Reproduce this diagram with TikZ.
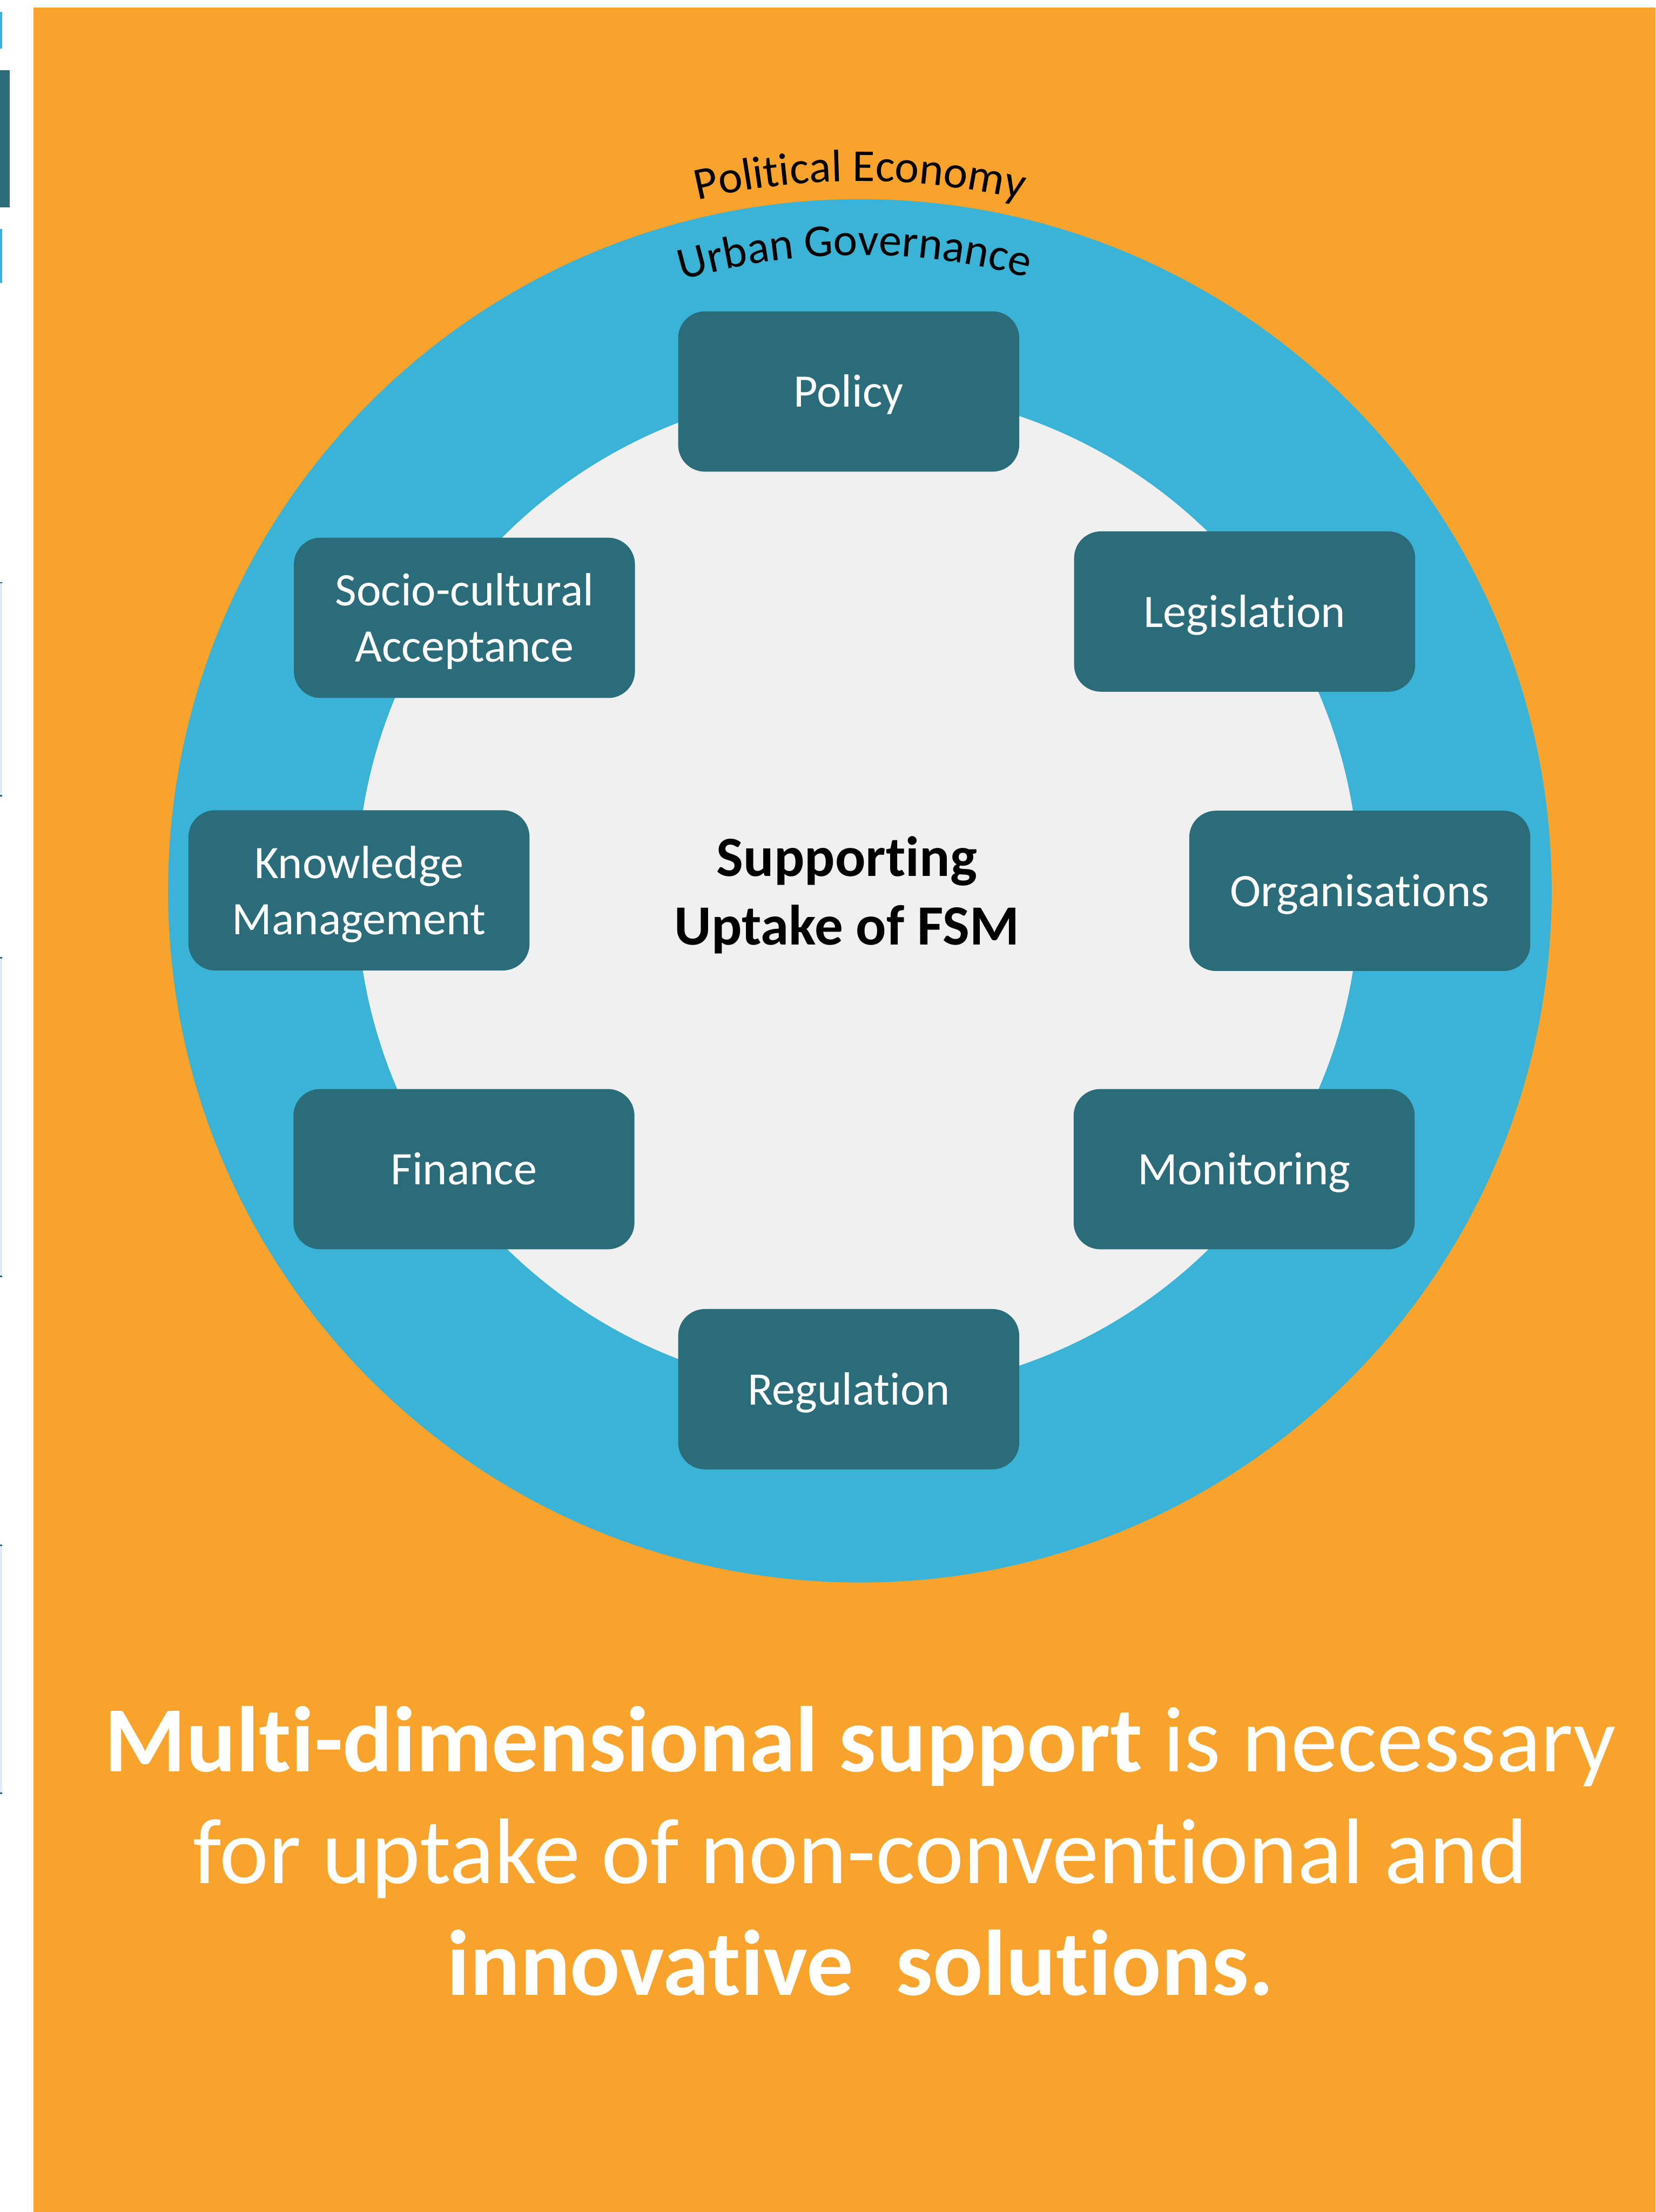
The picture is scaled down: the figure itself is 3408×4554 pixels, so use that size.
\documentclass[tikz,border=0pt]{standalone}
\usepackage{fontspec}
\setmainfont{Carlito}[Ligatures=NoCommon]
\usetikzlibrary{decorations.text}

\definecolor{panel}{RGB}{248,163,43}
\definecolor{ring}{RGB}{58,179,215}
\definecolor{core}{RGB}{240,240,240}
\definecolor{tile}{RGB}{43,108,122}
\definecolor{tab}{RGB}{222,234,246}

\newcommand\tilefont{\fontsize{96}{116}\selectfont}
\newcommand\arcfont{\fontsize{94}{110}\selectfont}

\begin{document}
\begin{tikzpicture}[x=1pt,y=1pt,
  tilebox/.style={rectangle, rounded corners=55pt, fill=tile, text=white,
    minimum width=702pt, minimum height=330pt, inner sep=0pt,
    align=center, font=\tilefont},
  oneline/.style={text height=74pt, text depth=10pt},
  twoline/.style={text height=190pt, text depth=8pt},
  arclabel/.style={decorate, decoration={text along path, text align=center}}]

\useasboundingbox (0,0) rectangle (3408,-4554);
\fill[white] (0,0) rectangle (3408,-4554);

% slivers along the left edge
\fill[ring] (0,-25) rectangle (4,-100);
\fill[tile] (0,-145) rectangle (20,-427);
\fill[ring] (0,-471) rectangle (4,-583);
\foreach \a/\b in {1198/1640, 1970/2629, 3180/3693}{
  \fill[tab] (0,-\a) rectangle (4,-\b);
  \fill[tile] (0,-\a) rectangle (4,{-\a-3});
  \fill[tile] (0,-\b) rectangle (4,{-\b+3});
}

% orange panel
\fill[panel] (69,-16) rectangle (3408,-4554);

% rings
\coordinate (C) at (1770,-1834);
\fill[ring] (C) circle[radius=1424];
\fill[core] (1766,-1834) circle[radius=1032];

% curved labels
\path[arclabel, decoration={text={|\arcfont|Political Economy}}]
  ([shift={(112:1461)}]C) arc[start angle=112, end angle=68, radius=1461];
\path[arclabel, decoration={text={|\arcfont|Urban Governance}}]
  ([shift={(114:1309)}]C) arc[start angle=114, end angle=67, radius=1309];

% dimension tiles
\node[tilebox, oneline] (policy) at (1747,-806)  {Policy};
\node[tilebox, oneline] (legis)  at (2562,-1259) {Legislation};
\node[tilebox, oneline] (orgs)   at (2799,-1834) {Organisations};
\node[tilebox, oneline] (monit)  at (2561,-2407) {Monitoring};
\node[tilebox, oneline] (regul)  at (1747,-2860) {Regulation};
\node[tilebox, oneline] (fin)    at (955,-2407)  {Finance};
\node[tilebox, twoline] (know)   at (739,-1833)  {Knowledge\\Management};
\node[tilebox, twoline] (socio)  at (956,-1272)  {Socio-cultural\\Acceptance};

% hub text
\node[font=\fontsize{117}{141}\selectfont\bfseries, align=center, inner sep=0pt]
  (hub) at (1743,-1843) {Supporting\\Uptake of FSM};

% message
\node[font=\fontsize{192}{230}\selectfont, text=white, align=center, inner sep=0pt]
  (msg) at (1771,-3811)
  {\textbf{Multi-dimensional support} is necessary\\
   for uptake of non-conventional and\\
   \textbf{innovative\ \ solutions.}};
\end{tikzpicture}
\end{document}
